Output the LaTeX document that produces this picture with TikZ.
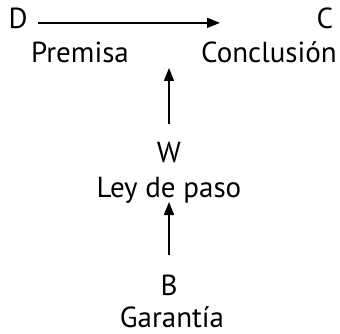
\documentclass[tikz,border=0pt]{standalone}
\usepackage{fontspec}
\setmainfont{PT Sans}
\usetikzlibrary{arrows.meta}
\tikzset{
  lbl/.style={inner sep=0pt, anchor=base, font=\fontsize{29}{34}\selectfont},
  arr/.style={line width=1.7pt, -{Triangle[length=13pt,width=10pt]}}
}
\begin{document}
\begin{tikzpicture}[x=1pt,y=-1pt]
\useasboundingbox (0,0) rectangle (340,334);
% top row
\node[lbl] (D) at (18,29) {D};
\node[lbl] (C) at (325,29) {C};
\node[lbl] (premisa) at (80,63) {Premisa};
\node[lbl] (conclusion) at (269,63) {Conclusión};
% middle and bottom
\node[lbl] (W) at (169,162) {W};
\node[lbl] (ley) at (169,197) {Ley de paso};
\node[lbl] (B) at (169,295) {B};
\node[lbl] (garantia) at (172,327) {Garantía};
% free ends of the arrows
\coordinate (tipDC) at (220,0);
\coordinate (tipW) at (0,68);
\coordinate (tipB) at (0,202);
\draw[arr] ([xshift=10pt,yshift=-4pt]D.east) -- ([yshift=-4pt]D.east -| tipDC);
\draw[arr] ([yshift=17pt]W.north) -- (W.north |- tipW);
\draw[arr] ([yshift=19pt]B.north) -- (B.north |- tipB);
\end{tikzpicture}
\end{document}
